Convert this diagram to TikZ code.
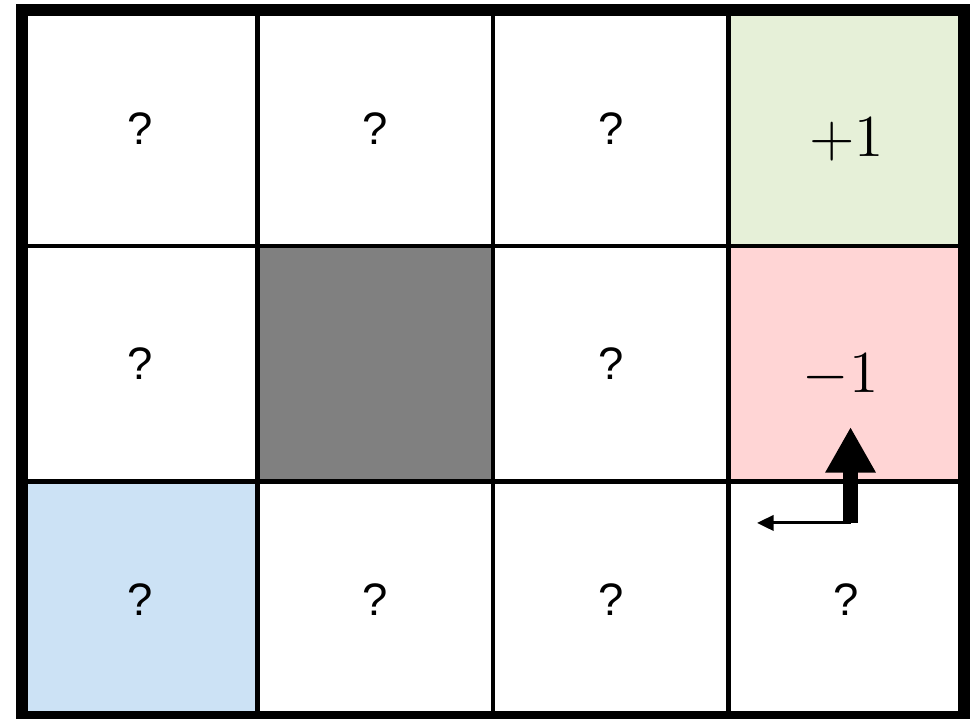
\documentclass[tikz,border=0pt]{standalone}
\usepackage{fontspec}
\setmainfont{Liberation Sans}
\usetikzlibrary{arrows.meta}

\definecolor{goalgreen}{RGB}{230,240,216}
\definecolor{pitred}{RGB}{255,213,213}
\definecolor{startblue}{RGB}{204,226,245}
\definecolor{wallgray}{RGB}{128,128,128}

\begin{document}
\begin{tikzpicture}[
  cell/.style={font=\fontsize{11}{13}\selectfont},
  reward/.style={font=\fontsize{15}{18}\selectfont},
  slip/.style={-{Triangle[length=4pt,width=3.7pt]}, line width=0.7pt},
  intended/.style={-{Triangle[length=11pt,width=11.4pt]}, line width=3.6pt},
]
  \useasboundingbox (-0.187,-0.013) rectangle (8.127,6.089);

  % coloured cells
  \fill[startblue] (0,0) rectangle (2,2);
  \fill[wallgray] (2,2) rectangle (4,4);
  \fill[pitred] (6,2) rectangle (8,4);
  \fill[goalgreen] (6,4) rectangle (8,6);

  % grid and border
  \draw[step=2, line width=1pt] (0,0) grid (8,6);
  \draw[line width=2.9pt] (0,0) rectangle (8,6);

  % cell labels
  \node[cell] (q11) at (1,5) {?};
  \node[cell] (q12) at (3,5) {?};
  \node[cell] (q13) at (5,5) {?};
  \node[reward] (goal) at (7,4.9) {$+1$};
  \node[cell] (q21) at (1,3) {?};
  \node[cell] (q23) at (5,3) {?};
  \node[reward] (pit) at (6.95,2.9) {$-1$};
  \node[cell] (start) at (1,1) {?};
  \node[cell] (q32) at (3,1) {?};
  \node[cell] (q33) at (5,1) {?};
  \node[cell] (q34) at (7,1) {?};

  % action arrows
  \coordinate (turn) at (7.036,1.648);
  \coordinate (up) at (7.036,2.463);
  \coordinate (left) at (6.242,1.648);
  \draw[slip] (turn) -- (left);
  \draw[intended] (turn) -- (up);
\end{tikzpicture}
\end{document}
